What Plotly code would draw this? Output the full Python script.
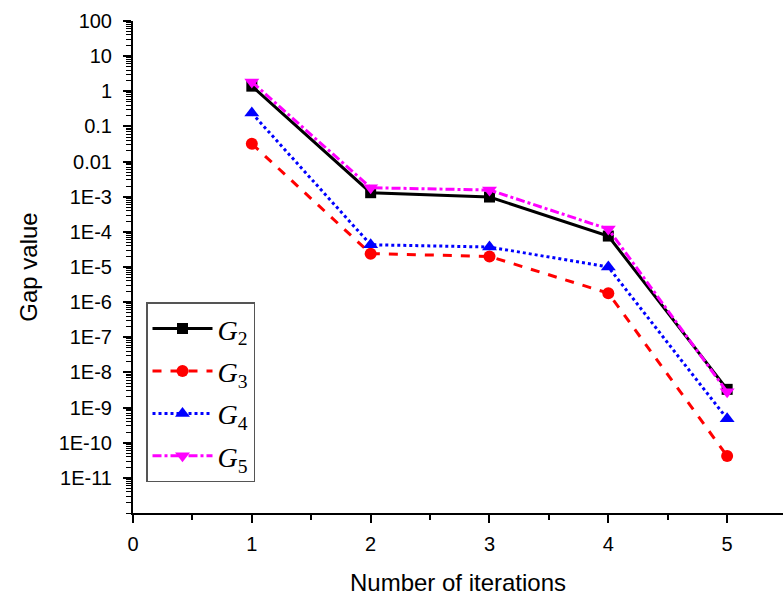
import plotly.graph_objects as go

iterations = [1, 2, 3, 4, 5]
g2 = [1.4, 1.3e-3, 9.8e-4, 7.6e-5, 3.3e-9]
g3 = [0.032, 2.4e-5, 2.0e-5, 1.8e-6, 4.2e-11]
g4 = [0.24, 4.3e-5, 3.7e-5, 1.0e-5, 4.8e-10]
g5 = [1.85, 1.8e-3, 1.55e-3, 1.2e-4, 2.8e-9]

ytick_vals = [1e2, 1e1, 1e0, 1e-1, 1e-2, 1e-3, 1e-4, 1e-5, 1e-6, 1e-7, 1e-8, 1e-9, 1e-10, 1e-11]
ytick_text = ["100", "10", "1", "0.1", "0.01", "1E-3", "1E-4", "1E-5", "1E-6", "1E-7",
              "1E-8", "1E-9", "1E-10", "1E-11"]
xtick_vals = [0, 1, 2, 3, 4, 5]

series = [
    ("<i>G</i><sub>2</sub>", g2, "black", "solid", "square", 11),
    ("<i>G</i><sub>3</sub>", g3, "red", "dash", "circle", 12),
    ("<i>G</i><sub>4</sub>", g4, "blue", "dot", "triangle-up", 13),
    ("<i>G</i><sub>5</sub>", g5, "magenta", "dashdot", "triangle-down", 13),
]

fig = go.Figure()
for i, (name, ys, color, dash, sym, ms) in enumerate(series):
    fig.add_trace(go.Scatter(
        x=iterations, y=ys, name=name, mode="lines+markers",
        line=dict(color=color, width=3, dash=dash),
        marker=dict(symbol=sym, size=ms, color=color),
        legendgroup=f"g{i}",
    ))

fig.update_layout(
    width=783, height=599,
    margin=dict(l=133, r=0, t=21, b=86),
    paper_bgcolor="white", plot_bgcolor="white",
    font=dict(family="Liberation Sans, Arial", size=20, color="black"),
    showlegend=True,
    legend=dict(
        x=0.02, y=0.428, xanchor="left", yanchor="top",
        bgcolor="white", bordercolor="#555555", borderwidth=1.5,
        font=dict(family="Liberation Serif, Times New Roman", size=28, color="black"),
        tracegroupgap=3,
        itemwidth=60,
    ),
    xaxis=dict(
        range=[0, 5.47], tickmode="array", tickvals=xtick_vals,
        showline=True, linecolor="black", linewidth=2,
        ticks="outside", ticklen=8, tickwidth=2, tickcolor="black",
        minor=dict(tickmode="array", tickvals=[0.5, 1.5, 2.5, 3.5, 4.5, 5.5],
                   ticks="outside", ticklen=5, tickwidth=2, tickcolor="black"),
        showgrid=False, zeroline=False, mirror=False, automargin=False,
        ticklabelstandoff=4,
        title=dict(text="Number of iterations", font=dict(size=24), standoff=20),
        tickfont=dict(size=20),
    ),
    yaxis=dict(
        type="log", range=[-12, 2], tickmode="array",
        tickvals=ytick_vals, ticktext=ytick_text,
        showline=True, linecolor="black", linewidth=2,
        ticks="outside", ticklen=8, tickwidth=2, tickcolor="black",
        minor=dict(dtick="D1", ticks="outside", ticklen=5, tickwidth=1, tickcolor="black"),
        showgrid=False, zeroline=False, mirror=False, automargin=False,
        ticklabelstandoff=7,
        title=dict(text="Gap value", font=dict(size=24), standoff=14),
        tickfont=dict(size=20),
    ),
)

fig.write_html("out.html", config={"displayModeBar": False},
               post_script="document.body.style.margin='0';document.body.style.overflow='hidden';")
